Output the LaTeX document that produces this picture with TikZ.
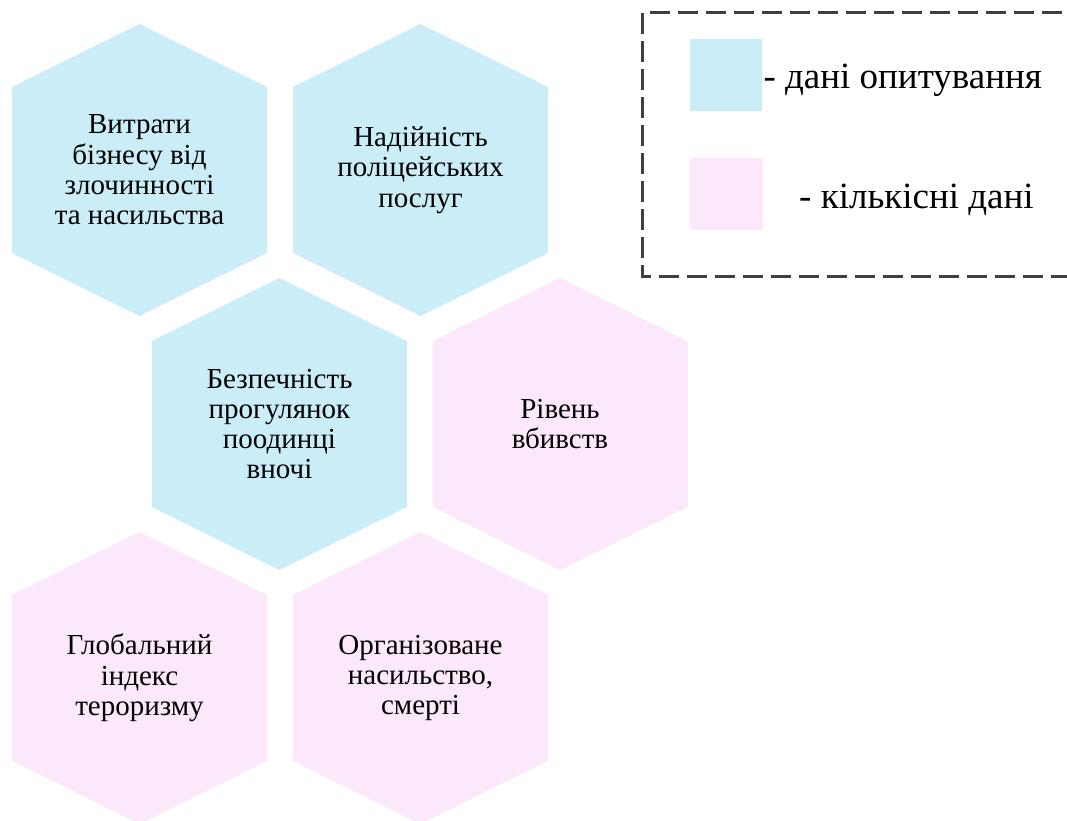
\documentclass[tikz,border=0pt]{standalone}
\usepackage{fontspec}
\setmainfont{Liberation Serif}
\begin{document}
\begin{tikzpicture}[x=1pt,y=-1pt,
  survey/.style={fill={rgb,255:red,202;green,237;blue,248}},
  quant/.style={fill={rgb,255:red,252;green,232;blue,251}},
  hextext/.style={align=center,font=\fontsize{29}{30.3}\selectfont,inner sep=0pt},
  legtext/.style={anchor=base west,font=\fontsize{37}{40}\selectfont,inner sep=0pt},
  legframe/.style={draw={rgb,255:red,64;green,64;blue,64},line width=2.5pt,dash pattern=on 20.5pt off 7.5pt}]
\useasboundingbox (0,0) rectangle (1067,820);
\clip (0,0) rectangle (1067,820);
% stretched pointy-top hexagon around a centre point
\def\hexat#1#2#3{\fill[#3] (#1,#2) ++(0,-146) -- ++(127.5,63) -- ++(0,166) -- ++(-127.5,63) -- ++(-127.5,-63) -- ++(0,-166) -- cycle;}
\hexat{139.5}{170}{survey}
\hexat{420.5}{170}{survey}
\hexat{279.5}{424}{survey}
\hexat{560}{424}{quant}
\hexat{139.5}{678}{quant}
\hexat{420.5}{678}{quant}
\node[hextext] (h1) at (139.5,170) {Витрати\\бізнесу від\\злочинності\\та насильства};
\node[hextext] (h2) at (420.5,170) {Надійність\\поліцейських\\послуг};
\node[hextext] (h3) at (279.5,424) {Безпечність\\прогулянок\\поодинці\\вночі};
\node[hextext] (h4) at (560,424) {Рівень\\вбивств};
\node[hextext] (h5) at (139.5,678) {Глобальний\\індекс\\тероризму};
\node[hextext] (h6) at (420.5,678) {Організоване\\насильство,\\смерті};
% legend
\draw[legframe] (1090,12.7) -- (642.3,12.7) -- (642.3,276.7) -- (1090,276.7);
\fill[survey] (690,39) rectangle (761.5,110.5);
\fill[quant] (690,158) rectangle (763,229.7);
\node[legtext] (l1) at (763.3,88.3) {- дані опитування};
\node[legtext] (l2) at (799,208.3) {- кількісні дані};
\end{tikzpicture}
\end{document}
